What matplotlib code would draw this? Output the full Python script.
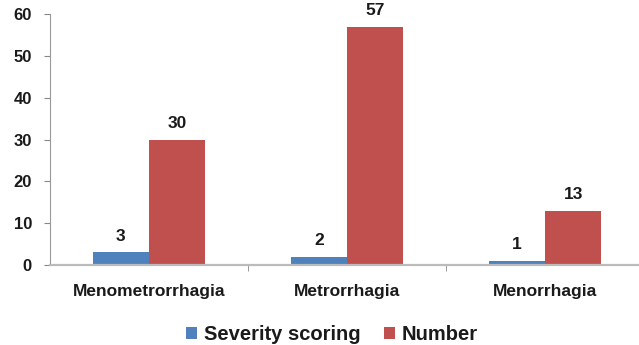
import matplotlib
matplotlib.use("Agg")
import matplotlib.pyplot as plt
import numpy as np

categories = ["Menometrorrhagia", "Metrorrhagia", "Menorrhagia"]
severity = [3, 2, 1]
number = [30, 57, 13]
yticks = [0, 10, 20, 30, 40, 50, 60]

blue = "#4F81BD"
red = "#C0504D"

plt.rcParams["font.family"] = ["Liberation Sans", "DejaVu Sans"]

fig = plt.figure(figsize=(6.39, 3.45), dpi=100)
ax = fig.add_axes([50 / 639, 1 - 265 / 345, 589 / 639, (265 - 14) / 345])

x = np.arange(len(categories))
w = 0.285
b1 = ax.bar(x - w / 2, severity, w, color=blue, label="Severity scoring")
b2 = ax.bar(x + w / 2, number, w, color=red, label="Number")

for bars, vals in ((b1, severity), (b2, number)):
    for r, v in zip(bars, vals):
        ax.annotate(str(v), (r.get_x() + r.get_width() / 2, v),
                    xytext=(0, 6), textcoords="offset points",
                    ha="center", va="bottom", fontsize=12.5, fontweight="bold",
                    color="#1a1a1a")

ax.set_xlim(-0.5, 2.475)
ax.set_ylim(0, 60)
ax.set_yticks(yticks)
ax.set_yticklabels([str(t) for t in yticks], fontsize=12, fontweight="bold",
                   color="#1a1a1a")
ax.set_xticks(x)
ax.set_xticklabels(categories, fontsize=12.5, fontweight="bold", color="#1a1a1a")
ax.set_xticks([0.5, 1.5], minor=True)
ax.tick_params(axis="x", which="major", length=0, pad=14)
ax.tick_params(axis="x", which="minor", length=4, color="#888888", direction="out")
ax.tick_params(axis="y", length=4, color="#888888", pad=9)

for s in ("top", "right"):
    ax.spines[s].set_visible(False)
ax.spines["left"].set_color("#999999")
ax.spines["bottom"].set_color("#BBBBBB")
ax.spines["bottom"].set_linewidth(1.6)

fig.legend(handles=[b1, b2], loc="center", bbox_to_anchor=(332 / 639, 1 - 335 / 345),
           ncol=2, frameon=False, prop={"weight": "bold", "size": 14.5},
           handlelength=0.55, handleheight=0.55, handletextpad=0.3, columnspacing=1.2,
           labelcolor="#1a1a1a")

fig.savefig("out.png", dpi=100)
